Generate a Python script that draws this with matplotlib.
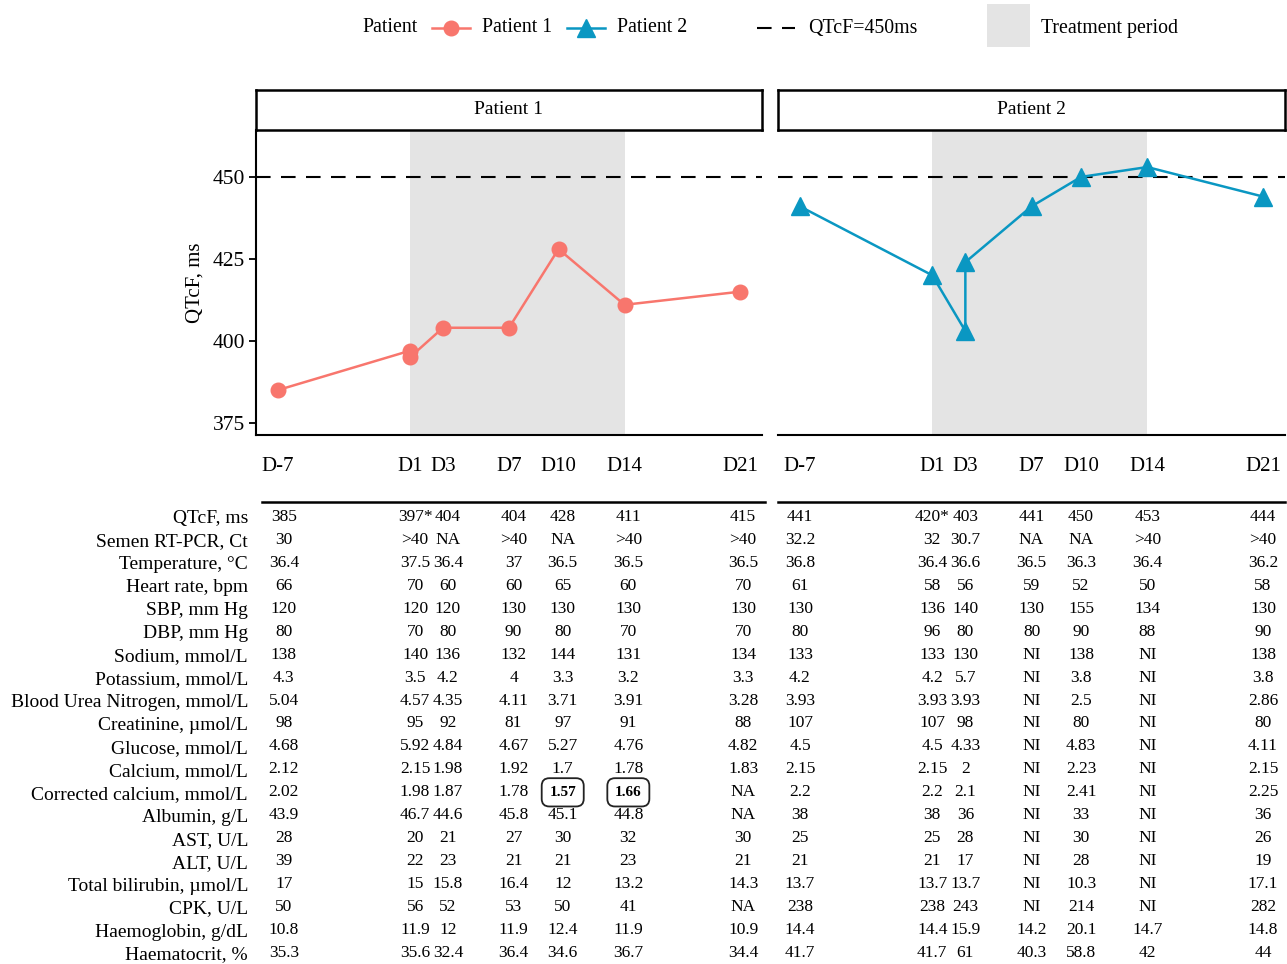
import matplotlib
matplotlib.use("Agg")
import matplotlib.pyplot as plt
from matplotlib.patches import Rectangle
from matplotlib.lines import Line2D

plt.rcParams['font.family'] = ['Liberation Serif', 'DejaVu Serif']

W, H = 1287, 964

# ---- data ----
days = [-7, 1, 3, 7, 10, 14, 21]
day_labels = ["D-7", "D1", "D3", "D7", "D10", "D14", "D21"]
treat_start, treat_end = 1, 14

p1_days = [-7, 1, 1, 3, 7, 10, 14, 21]
p1_qtcf = [385, 397, 395, 404, 404, 428, 411, 415]
p2_days = [-7, 1, 3, 3, 7, 10, 14, 21]
p2_qtcf = [441, 420, 403, 424, 441, 450, 453, 444]

row_labels = ["QTcF, ms", "Semen RT-PCR, Ct", "Temperature, °C", "Heart rate, bpm",
              "SBP, mm Hg", "DBP, mm Hg", "Sodium, mmol/L", "Potassium, mmol/L",
              "Blood Urea Nitrogen, mmol/L", "Creatinine, µmol/L", "Glucose, mmol/L",
              "Calcium, mmol/L", "Corrected calcium, mmol/L", "Albumin, g/L",
              "AST, U/L", "ALT, U/L", "Total bilirubin, µmol/L", "CPK, U/L",
              "Haemoglobin, g/dL", "Haematocrit, %"]

p1_rows = [
    ["385", "397*", "404", "404", "428", "411", "415"],
    ["30", ">40", "NA", ">40", "NA", ">40", ">40"],
    ["36.4", "37.5", "36.4", "37", "36.5", "36.5", "36.5"],
    ["66", "70", "60", "60", "65", "60", "70"],
    ["120", "120", "120", "130", "130", "130", "130"],
    ["80", "70", "80", "90", "80", "70", "70"],
    ["138", "140", "136", "132", "144", "131", "134"],
    ["4.3", "3.5", "4.2", "4", "3.3", "3.2", "3.3"],
    ["5.04", "4.57", "4.35", "4.11", "3.71", "3.91", "3.28"],
    ["98", "95", "92", "81", "97", "91", "88"],
    ["4.68", "5.92", "4.84", "4.67", "5.27", "4.76", "4.82"],
    ["2.12", "2.15", "1.98", "1.92", "1.7", "1.78", "1.83"],
    ["2.02", "1.98", "1.87", "1.78", "1.57", "1.66", "NA"],
    ["43.9", "46.7", "44.6", "45.8", "45.1", "44.8", "NA"],
    ["28", "20", "21", "27", "30", "32", "30"],
    ["39", "22", "23", "21", "21", "23", "21"],
    ["17", "15", "15.8", "16.4", "12", "13.2", "14.3"],
    ["50", "56", "52", "53", "50", "41", "NA"],
    ["10.8", "11.9", "12", "11.9", "12.4", "11.9", "10.9"],
    ["35.3", "35.6", "32.4", "36.4", "34.6", "36.7", "34.4"],
]
p2_rows = [
    ["441", "420*", "403", "441", "450", "453", "444"],
    ["32.2", "32", "30.7", "NA", "NA", ">40", ">40"],
    ["36.8", "36.4", "36.6", "36.5", "36.3", "36.4", "36.2"],
    ["61", "58", "56", "59", "52", "50", "58"],
    ["130", "136", "140", "130", "155", "134", "130"],
    ["80", "96", "80", "80", "90", "88", "90"],
    ["133", "133", "130", "NI", "138", "NI", "138"],
    ["4.2", "4.2", "5.7", "NI", "3.8", "NI", "3.8"],
    ["3.93", "3.93", "3.93", "NI", "2.5", "NI", "2.86"],
    ["107", "107", "98", "NI", "80", "NI", "80"],
    ["4.5", "4.5", "4.33", "NI", "4.83", "NI", "4.11"],
    ["2.15", "2.15", "2", "NI", "2.23", "NI", "2.15"],
    ["2.2", "2.2", "2.1", "NI", "2.41", "NI", "2.25"],
    ["38", "38", "36", "NI", "33", "NI", "36"],
    ["25", "25", "28", "NI", "30", "NI", "26"],
    ["21", "21", "17", "NI", "28", "NI", "19"],
    ["13.7", "13.7", "13.7", "NI", "10.3", "NI", "17.1"],
    ["238", "238", "243", "NI", "214", "NI", "282"],
    ["14.4", "14.4", "15.9", "14.2", "20.1", "14.7", "14.8"],
    ["41.7", "41.7", "61", "40.3", "58.8", "42", "44"],
]
p1_boxed = [(12, 4), (12, 5)]

C1 = "#F8766D"
C2 = "#0A97C2"
GREY = "#E4E4E4"
XLIM = (-8.33, 22.33)
YLIM = (371.3, 464.3)


def fig_rect(x0, y0, x1, y1):
    return [x0 / W, 1 - y1 / H, (x1 - x0) / W, (y1 - y0) / H]


fig = plt.figure(figsize=(W / 100, H / 100), dpi=100)


def draw_panel(x0, x1, title, dd, qq, color, marker, ms, first):
    ax = fig.add_axes(fig_rect(x0, 130, x1, 435))
    ax.axvspan(treat_start, treat_end, color=GREY, lw=0, zorder=0)
    ax.axhline(450, color="black", lw=1.5, dashes=(7, 5), zorder=1)
    ax.plot(dd, qq, color=color, lw=1.8, marker=marker, ms=ms, zorder=3)
    ax.set_xlim(*XLIM)
    ax.set_ylim(*YLIM)
    ax.set_xticks(days)
    ax.set_xticklabels(day_labels, fontsize=15)
    ax.tick_params(axis="x", length=0, pad=16)
    ax.set_yticks([375, 400, 425, 450])
    for s in ["top", "right"]:
        ax.spines[s].set_visible(False)
    ax.spines["bottom"].set_linewidth(1.5)
    if first:
        ax.spines["left"].set_linewidth(1.5)
        ax.tick_params(axis="y", labelsize=15.5, width=1.3, length=5, pad=3)
        ax.set_ylabel("QTcF, ms", fontsize=15, labelpad=6)
    else:
        ax.spines["left"].set_visible(False)
        ax.tick_params(axis="y", left=False, labelleft=False)
    # strip
    st = fig.add_axes(fig_rect(x0, 90, x1, 130))
    st.set_xticks([])
    st.set_yticks([])
    for s in st.spines.values():
        s.set_linewidth(1.8)
    st.text(0.5, 0.5, title, ha="center", va="center", fontsize=14,
            transform=st.transAxes)
    return ax


def draw_table(x0, x1, rows, boxed, first):
    tb = fig.add_axes(fig_rect(x0, 502, x1, H))
    tb.set_xlim(*XLIM)
    tb.set_ylim(19.48, -0.65)
    for s in ["left", "right", "bottom"]:
        tb.spines[s].set_visible(False)
    tb.spines["top"].set_linewidth(1.8)
    tb.set_xticks([])
    tb.set_yticks(range(len(row_labels)))
    if first:
        tb.set_yticklabels(row_labels, fontsize=14)
        tb.tick_params(axis="y", length=0, pad=10)
    else:
        tb.tick_params(axis="y", left=False, labelleft=False)
    for i, row in enumerate(rows):
        for j, val in enumerate(row):
            if (i, j) in boxed:
                tb.text(days[j], i, val, ha="center", va="center", fontsize=11,
                        fontweight="bold",
                        bbox=dict(boxstyle="round,pad=0.5,rounding_size=0.5",
                                  fc="none", ec="#222222", lw=1.3))
            else:
                tb.text(days[j], i, val, ha="center", va="center", fontsize=12.5)


draw_panel(256, 762, "Patient 1", p1_days, p1_qtcf, C1, "o", 10.5, True)
draw_panel(778, 1285, "Patient 2", p2_days, p2_qtcf, C2, "^", 12.5, False)
draw_table(262, 765, p1_rows, p1_boxed, True)
draw_table(778, 1285, p2_rows, [], False)

# ---- legend ----
lg = fig.add_axes([0, 0, 1, 1])
lg.set_xlim(0, W)
lg.set_ylim(H, 0)
lg.axis("off")
ly = 28
fs = 14.3
lg.text(362, ly, "Patient", ha="left", va="center", fontsize=fs)
lg.add_line(Line2D([432, 470], [ly, ly], color=C1, lw=1.8))
lg.plot([451], [ly], marker="o", ms=10.5, color=C1)
lg.text(482, ly, "Patient 1", ha="left", va="center", fontsize=fs)
lg.add_line(Line2D([567, 605], [ly, ly], color=C2, lw=1.8))
lg.plot([586], [ly], marker="^", ms=12.5, color=C2)
lg.text(617, ly, "Patient 2", ha="left", va="center", fontsize=fs)
lg.add_line(Line2D([757, 795], [ly, ly], color="black", lw=1.5, dashes=(7, 5)))
lg.text(808, ly, "QTcF=450ms", ha="left", va="center", fontsize=fs)
lg.add_patch(Rectangle((987, 4), 43, 43, color=GREY, lw=0))
lg.text(1041, ly, "Treatment period", ha="left", va="center", fontsize=fs)

fig.savefig("out.png", dpi=100)
